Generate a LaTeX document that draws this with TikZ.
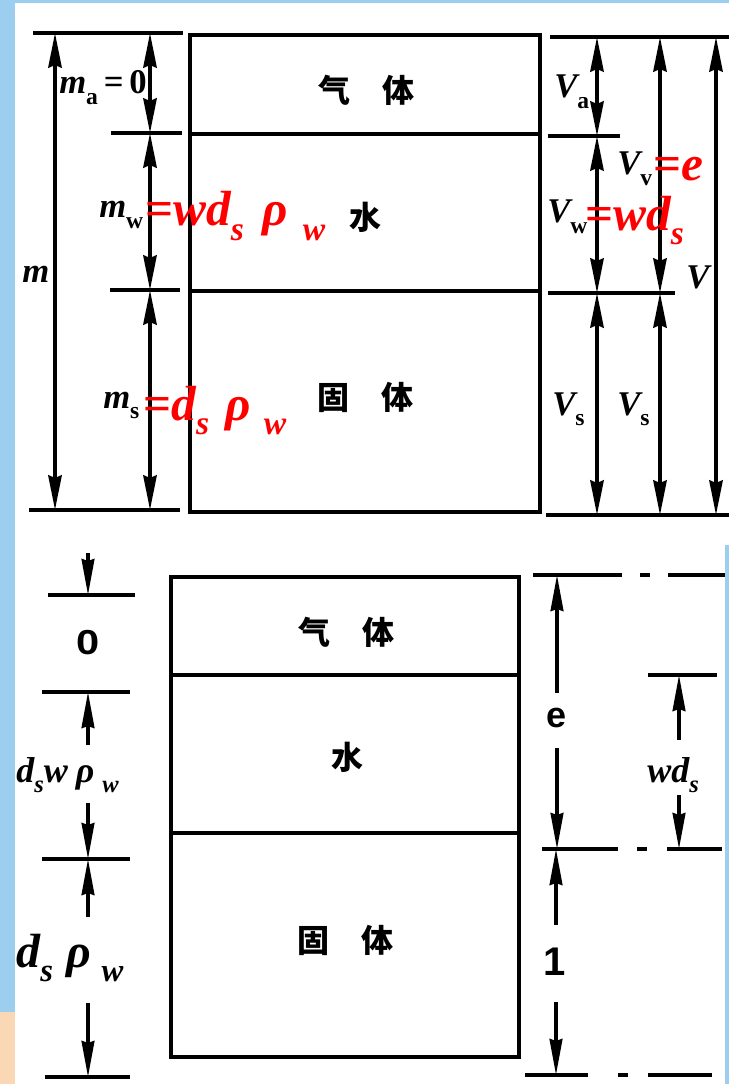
\documentclass[tikz,border=0pt]{standalone}
\usepackage{fontspec}
\setmainfont{Liberation Serif}
\setsansfont{Liberation Sans}
\newfontfamily\cjk{Noto Sans CJK SC}
\usepackage{graphicx}
\usetikzlibrary{arrows.meta}

\definecolor{bgblue}{HTML}{9CCFEF}
\definecolor{peach}{HTML}{FBD8B5}
\definecolor{hotred}{HTML}{FF0000}

% lowered, reduced subscript in text mode
\newcommand\sbs[1]{\raisebox{-0.3em}{\scalebox{0.68}{#1}}}
\newcommand\vi[1]{{\itshape #1}}

\tikzset{
  tipA/.tip={Stealth[length=26pt,width=10pt,inset=2pt]},
  tipB/.tip={Stealth[length=27pt,width=9.5pt,inset=1.5pt]},
  wall/.style={line width=3.6pt},
  ext/.style={line width=2.6pt},
  dimline/.style={line width=2.6pt,tipA-tipA},
  halfdim/.style={line width=2.6pt,-tipB},
  chain/.style={line width=2.8pt},
  blk/.style={inner sep=0pt,anchor=base west,font=\fontsize{26}{28}\selectfont\bfseries},
  redlab/.style={inner sep=0pt,anchor=base west,text=hotred,font=\fontsize{37}{40}\selectfont\bfseries\itshape},
  botlab/.style={inner sep=0pt,anchor=base west,font=\fontsize{27}{30}\selectfont\bfseries\itshape},
  numlab/.style={inner sep=0pt,font=\sffamily\bfseries},
  cn/.style={inner sep=0pt,font=\cjk\bfseries\fontsize{24}{26}\selectfont},
}

\begin{document}
\begin{tikzpicture}[x=0.75pt,y=-0.75pt]
\useasboundingbox (0,0) rectangle (729,1084);

% backdrop
\fill[bgblue] (0,0) rectangle (729,1084);
\fill[white] (15,3) rectangle (729,545);
\fill[white] (15,545) rectangle (725,1084);
\fill[peach] (0,1012) rectangle (15,1084);

% ================= upper phase diagram =================
\draw[wall] (190,35) rectangle (540,512);
\draw[wall] (190,134) -- (540,134);
\draw[wall] (190,291) -- (540,291);

\node[cn] (gas1)   at (366,90)  {气\hspace{1em}体};
\node[cn] (water1) at (365,217) {水};
\node[cn] (solid1) at (365,397) {固\hspace{1em}体};

% left extension lines
\draw[ext] (33,33) -- (183,33);
\draw[ext] (111,133) -- (182,133);
\draw[ext] (110,290) -- (180,290);
\draw[ext] (29,510) -- (180,510);

% right extension lines
\draw[ext] (550,37) -- (729,37);
\draw[ext] (548,136) -- (620,136);
\draw[ext] (548,293) -- (675,293);
\draw[ext] (546,515) -- (729,515);

% dimension end points, left side
\coordinate (mT) at (55,33);   \coordinate (mB) at (55,510);
\coordinate (c1) at (150,33);  \coordinate (c2) at (150,133);
\coordinate (c3) at (150,290); \coordinate (c4) at (150,510);
% dimension end points, right side
\coordinate (r1) at (597,37);  \coordinate (r2) at (597,136);
\coordinate (r3) at (597,293); \coordinate (r4) at (597,515);
\coordinate (s1) at (660,37);  \coordinate (s2) at (660,293);
\coordinate (s3) at (660,515);
\coordinate (t1) at (716,37);  \coordinate (t2) at (716,515);

\draw[dimline] (mT) -- (mB);
\draw[dimline] (c1) -- (c2);
\draw[dimline] (c2) -- (c3);
\draw[dimline] (c3) -- (c4);
\draw[dimline] (r1) -- (r2);
\draw[dimline] (r2) -- (r3);
\draw[dimline] (r3) -- (r4);
\draw[dimline] (s1) -- (s2);
\draw[dimline] (s2) -- (s3);
\draw[dimline] (t1) -- (t2);

% mass labels
\node[blk] (ma) at (59,94)  {\vi{m}\sbs{a}\,=\,0};
\node[blk] (m)  at (22,282) {\vi{m}};
\node[blk] (mw) at (99,218) {\vi{m}\sbs{w}};
\node[redlab] (mwr) at (145,226) {\upshape=\itshape wd\sbs{s}\hspace{14pt}ρ\hspace{11pt}\sbs{w}};
\node[blk] (ms) at (103,408) {\vi{m}\sbs{s}};
\node[redlab] (msr) at (143,420) {\upshape=\itshape d\sbs{s}\hspace{12pt}ρ\hspace{10pt}\sbs{w}};

% volume labels
\node[blk] (Va) at (554,98)  {\vi{V}\sbs{a}};
\node[blk] (Vv) at (617,175) {\vi{V}\sbs{v}};
\node[redlab] (Vvr) at (653,181) {\upshape=\itshape e};
\node[blk] (Vw) at (547,223) {\vi{V}\sbs{w}};
\node[redlab] (Vwr) at (585,230) {\upshape=\itshape wd\sbs{s}};
\node[blk] (V)  at (686,288) {\vi{V}};
\node[blk] (Vs1) at (552,415) {\vi{V}\sbs{s}};
\node[blk] (Vs2) at (617,415) {\vi{V}\sbs{s}};

% ================= lower phase diagram =================
\draw[wall] (171,577) rectangle (519,1057);
\draw[wall] (171,675) -- (519,675);
\draw[wall] (171,833) -- (519,833);

\node[cn] (gas2)   at (346,632) {气\hspace{1em}体};
\node[cn] (water2) at (347,757) {水};
\node[cn] (solid2) at (345,940) {固\hspace{1em}体};

% left mass scale
\draw[ext] (48,595) -- (135,595);
\draw[ext] (42,692) -- (130,692);
\draw[ext] (42,859) -- (130,859);
\draw[ext] (45,1077) -- (130,1077);

\coordinate (a0) at (88,553);  \coordinate (a1) at (88,595);
\coordinate (a2) at (88,745);  \coordinate (a3) at (88,692);
\coordinate (a4) at (88,803);  \coordinate (a5) at (88,859);
\coordinate (a6) at (88,917);
\coordinate (a7) at (88,1003); \coordinate (a8) at (88,1077);

\draw[halfdim] (a0) -- (a1);
\draw[halfdim] (a2) -- (a3);
\draw[halfdim] (a4) -- (a5);
\draw[halfdim] (a6) -- (a5);
\draw[halfdim] (a7) -- (a8);

\node[numlab,font=\sffamily\bfseries\fontsize{26}{28}\selectfont] (zero) at (88,643) {\scalebox{1.2}[1]{0}};
\node[botlab] (dswr) at (16,782) {d\sbs{s}w\hspace{6pt}ρ\hspace{6pt}\sbs{w}};
\node[botlab,font=\fontsize{36}{40}\selectfont\bfseries\itshape] (dsr) at (16,967) {d\sbs{s}\hspace{10pt}ρ\hspace{8pt}\sbs{w}};

% right volume scale (chain lines)
\draw[chain,dash pattern=on 66.75pt off 13.5pt on 7.5pt off 13.5pt on 200pt] (533,575) -- (725,575);
\draw[ext] (648,675) -- (717,675);
\draw[chain,dash pattern=on 57pt off 14.25pt on 7.5pt off 15pt on 200pt] (542,849) -- (722,849);
\draw[chain,dash pattern=on 47.25pt off 22.5pt on 7.5pt off 15pt on 200pt] (525,1075) -- (712,1075);

\coordinate (e0) at (557,575);  \coordinate (e1) at (557,693);
\coordinate (e2) at (557,748);  \coordinate (e3) at (557,849);
\coordinate (w0) at (679,675);  \coordinate (w1) at (679,740);
\coordinate (w2) at (679,795);  \coordinate (w3) at (679,849);
\coordinate (u0) at (556,849);  \coordinate (u1) at (556,925);
\coordinate (u2) at (556,1002); \coordinate (u3) at (556,1075);

\draw[halfdim] (e1) -- (e0);
\draw[halfdim] (e2) -- (e3);
\draw[halfdim] (w1) -- (w0);
\draw[halfdim] (w2) -- (w3);
\draw[halfdim] (u1) -- (u0);
\draw[halfdim] (u2) -- (u3);

\node[numlab,font=\sffamily\bfseries\fontsize{27}{30}\selectfont] (elab) at (557,718) {e};
\node[numlab,font=\sffamily\bfseries\fontsize{30}{32}\selectfont] (onelab) at (555,962) {1};
\node[botlab] (wds) at (647,782) {wd\sbs{s}};
\end{tikzpicture}
\end{document}
